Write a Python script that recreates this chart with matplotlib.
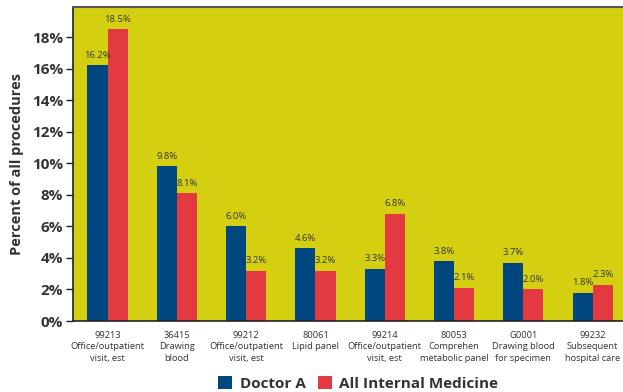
import numpy as np
import matplotlib.pyplot as plt
from matplotlib.ticker import FuncFormatter

plt.rcParams['font.family'] = ['Open Sans', 'DejaVu Sans']

# Dados
codes = ['99213', '36415', '99212', '80061', '99214', '80053', 'G0001', '99232']
descs = ['Office/outpatient\nvisit, est', 'Drawing\nblood', 'Office/outpatient\nvisit, est',
         'Lipid panel', 'Office/outpatient\nvisit, est', 'Comprehen\nmetabolic panel',
         'Drawing blood\nfor specimen', 'Subsequent\nhospital care']
doctor_a = [16.2, 9.8, 6.0, 4.6, 3.3, 3.8, 3.7, 1.8]
all_im = [18.5, 8.1, 3.2, 3.2, 6.8, 2.1, 2.0, 2.3]
y_ticks = [0, 2, 4, 6, 8, 10, 12, 14, 16, 18]

blue = '#00467F'
red = '#E23A40'
bg = '#D4D011'

fig = plt.figure(figsize=(6.23, 3.92), dpi=100)
ax = fig.add_axes([0.117, 0.181, 0.89, 0.801])
ax.set_facecolor(bg)

x = np.arange(len(codes))
w = 0.29
b1 = ax.bar(x - w / 2, doctor_a, w, color=blue, label='Doctor A')
b2 = ax.bar(x + w / 2, all_im, w, color=red, label='All Internal Medicine')

# Rótulos de valor
for bars in (b1, b2):
    for rect in bars:
        h = rect.get_height()
        ax.annotate(f'{h:.1f}%', (rect.get_x() + rect.get_width() / 2, h),
                    xytext=(0, 4), textcoords='offset points',
                    ha='center', va='bottom', fontsize=6.8, color='#333333')

ax.set_xlim(-0.5, len(codes) - 0.5)
ax.set_ylim(0, 19.9)
ax.set_yticks(y_ticks)
ax.yaxis.set_major_formatter(FuncFormatter(lambda v, p: f'{v:.0f}%'))
ax.set_xticks(x)
ax.set_xticklabels([f'{c}\n{d}' for c, d in zip(codes, descs)], fontsize=6.7,
                   color='#333333', linespacing=1.35)
ax.tick_params(axis='x', length=0, pad=7)
ax.tick_params(axis='y', length=5, width=1, labelsize=11, pad=2, colors='#222222')
for lab in ax.get_yticklabels():
    lab.set_fontweight('bold')
    lab.set_color('#333333')

ax.set_ylabel('Percent of all procedures', fontsize=10.5, fontweight='bold',
              color='#333333', labelpad=6)

ax.spines['right'].set_visible(False)
ax.spines['top'].set_color('#555555')
ax.spines['top'].set_linewidth(1.5)
ax.spines['left'].set_color('#222222')
ax.spines['bottom'].set_color('#222222')
ax.spines['left'].set_linewidth(1.2)
ax.spines['bottom'].set_linewidth(1.2)

leg = fig.legend(handles=[b1, b2], loc='center', bbox_to_anchor=(0.575, 0.022), ncol=2,
                 frameon=False, fontsize=11, handlelength=0.9, handleheight=0.9,
                 columnspacing=0.8, handletextpad=0.5)
for t in leg.get_texts():
    t.set_fontweight('bold')
    t.set_color('#333333')

fig.savefig('out.png', dpi=100)
